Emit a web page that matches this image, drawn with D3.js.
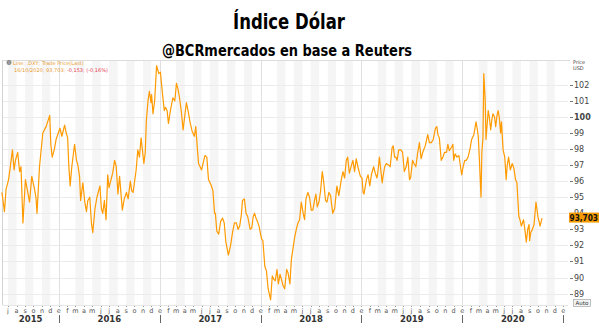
<!DOCTYPE html>
<meta charset="utf-8">
<script src="https://d3js.org/d3.v7.min.js"></script>
<style>
  body { margin: 0; background: #fff; }
  svg { display: block; }
  text { font-family: "DejaVu Sans", sans-serif; }
</style>
<div id="chart"></div>
<script>
// DXY closes (date, value)
var dates = [
  "2015-06-09","2015-06-18","2015-06-24","2015-07-03","2015-07-17","2015-07-23","2015-08-05","2015-08-17",
  "2015-08-24","2015-09-02","2015-09-17","2015-09-25","2015-10-14","2015-10-23","2015-11-04","2015-11-16",
  "2015-11-29","2015-12-08","2015-12-16","2016-01-05","2016-01-22","2016-02-02","2016-02-11","2016-02-27",
  "2016-03-16","2016-03-20","2016-03-28","2016-04-10","2016-04-22","2016-05-03","2016-05-11","2016-05-29",
  "2016-06-08","2016-06-20","2016-06-26","2016-07-08","2016-07-21","2016-08-02","2016-08-08","2016-08-18",
  "2016-09-02","2016-09-16","2016-09-26","2016-10-07","2016-10-13","2016-10-25","2016-11-04","2016-11-13",
  "2016-11-19","2016-12-02","2016-12-07","2016-12-20","2017-01-03","2017-01-10","2017-01-21","2017-02-01",
  "2017-02-17","2017-03-02","2017-03-13","2017-03-26","2017-04-07","2017-04-21","2017-05-06","2017-05-21",
  "2017-06-01","2017-06-13","2017-06-26","2017-07-07","2017-07-18","2017-07-26","2017-08-09","2017-08-28",
  "2017-09-06","2017-09-21","2017-10-05","2017-10-17","2017-10-27","2017-11-09","2017-11-24","2017-12-10",
  "2017-12-26","2018-01-04","2018-01-16","2018-01-28","2018-02-06","2018-02-17","2018-03-01","2018-03-17",
  "2018-03-29","2018-04-10","2018-04-22","2018-05-04","2018-05-16","2018-05-28","2018-06-09","2018-06-21",
  "2018-07-03","2018-07-15","2018-07-31","2018-08-12","2018-08-24","2018-09-05","2018-09-19","2018-10-04",
  "2018-10-20","2018-11-07","2018-11-18","2018-12-01","2018-12-19","2019-01-07","2019-01-19","2019-01-31",
  "2019-02-14","2019-03-01","2019-03-07","2019-03-17","2019-04-01","2019-04-22","2019-05-06","2019-05-16",
  "2019-05-24","2019-06-05","2019-06-24","2019-07-05","2019-07-17","2019-07-30","2019-08-11","2019-08-29",
  "2019-09-11","2019-09-26","2019-10-05","2019-10-17","2019-10-29","2019-11-10","2019-11-23","2019-12-01",
  "2019-12-13","2019-12-30","2020-01-10","2020-01-22","2020-02-04","2020-02-20","2020-02-28","2020-03-04",
  "2020-03-09","2020-03-12","2020-03-19","2020-03-24","2020-03-27","2020-04-04","2020-04-13","2020-04-21",
  "2020-05-01","2020-05-10","2020-05-19","2020-05-28","2020-06-08","2020-06-17","2020-06-30","2020-07-12",
  "2020-07-24","2020-08-02","2020-08-20","2020-08-30","2020-09-11","2020-09-24","2020-10-01","2020-10-09",
  "2020-10-16",
  // in-between readings
  "2015-07-10","2015-07-28","2015-08-12","2015-10-05","2015-10-10","2015-12-03","2015-12-22","2016-01-12",
  "2016-01-28","2016-02-06","2016-02-17","2016-03-05","2016-03-10","2016-04-04","2016-04-15","2016-04-28",
  "2016-05-18","2016-05-24","2016-06-03","2016-06-14","2016-07-01","2016-07-14","2016-07-27","2016-08-25",
  "2016-09-08","2016-09-21","2016-10-19","2016-11-09","2016-11-24","2016-11-30","2016-12-13","2016-12-28",
  "2017-01-17","2017-01-27","2017-02-08","2017-02-24","2017-03-08","2017-03-20","2017-04-13","2017-04-28",
  "2017-05-11","2017-05-16","2017-06-20","2017-07-12","2017-07-21","2017-08-02","2017-08-16","2017-08-22",
  "2017-09-14","2017-09-28","2017-10-11","2017-10-23","2017-11-03","2017-11-15","2017-11-30","2017-12-05",
  "2017-12-15","2017-12-20","2018-01-09","2018-01-22","2018-02-12","2018-02-23","2018-03-06","2018-03-12",
  "2018-03-23","2018-04-05","2018-04-17","2018-05-10","2018-05-22","2018-06-04","2018-06-14","2018-06-27",
  "2018-07-09","2018-07-20","2018-07-25","2018-08-06","2018-08-17","2018-08-29","2018-09-11","2018-09-26",
  "2018-10-11","2018-10-26","2018-11-01","2018-11-12","2018-11-26","2018-12-07","2018-12-13","2018-12-28",
  "2019-01-03","2019-01-10","2019-01-25","2019-02-06","2019-02-20","2019-02-26","2019-03-21","2019-03-26",
  "2019-04-10","2019-04-15","2019-04-26","2019-05-01","2019-05-10","2019-05-30","2019-06-12","2019-06-18",
  "2019-06-28","2019-07-10","2019-07-23","2019-08-05","2019-08-20","2019-09-04","2019-09-18","2019-10-01",
  "2019-10-10","2019-10-23","2019-11-05","2019-11-15","2019-11-28","2019-12-06","2019-12-20","2020-01-03",
  "2020-01-16","2020-01-29","2020-02-12","2020-02-24","2020-03-16","2020-04-08","2020-04-17","2020-04-27",
  "2020-05-06","2020-05-14","2020-05-22","2020-06-03","2020-06-12","2020-06-23","2020-07-06","2020-07-17",
  "2020-07-28","2020-08-10","2020-08-14","2020-08-25","2020-09-01","2020-09-05","2020-09-17","2020-10-05",
  "2020-10-13"
];
var values = [
  95.3, 94.1, 95.5, 96.1, 97.95, 96.7, 97.8, 96.9,
  93.4, 96.1, 94.7, 96.3, 94.0, 96.9, 99.0, 99.4,
  100.1, 97.5, 98.0, 99.3, 99.5, 98.7, 95.7, 98.3,
  96.3, 94.8, 95.9, 94.1, 95.0, 92.8, 94.3, 95.7,
  94.0, 93.6, 96.4, 96.1, 97.3, 95.2, 96.3, 94.2,
  95.3, 96.0, 95.3, 96.7, 97.95, 98.7, 97.1, 99.8,
  101.0, 101.4, 100.2, 103.2, 102.8, 101.5, 100.6, 99.6,
  101.2, 102.1, 101.2, 99.2, 100.9, 99.6, 98.8, 97.1,
  96.7, 97.6, 96.1, 95.7, 94.0, 92.9, 93.5, 92.2,
  91.4, 92.8, 93.4, 93.2, 94.8, 94.0, 93.0, 94.0,
  93.2, 92.4, 90.7, 89.3, 88.6, 89.9, 90.5, 89.9,
  89.3, 90.3, 91.1, 92.5, 93.4, 94.7, 93.6, 95.3,
  94.2, 94.8, 94.7, 96.6, 94.8, 95.3, 94.0, 95.7,
  96.1, 97.3, 96.5, 97.3, 96.9, 95.3, 96.1, 95.7,
  96.9, 96.5, 97.5, 95.9, 97.1, 98.1, 97.5, 97.95,
  97.95, 96.6, 96.1, 97.3, 96.9, 98.4, 97.8, 98.9,
  98.4, 99.3, 98.9, 97.3, 97.8, 98.3, 98.1, 97.3,
  97.5, 96.4, 97.3, 97.5, 98.6, 99.7, 98.8, 97.0,
  95.0, 97.8, 102.7, 101.1, 98.6, 100.4, 99.2, 100.2,
  99.4, 100.4, 99.0, 97.95, 96.1, 97.5, 97.1, 96.1,
  93.8, 93.2, 92.2, 93.3, 93.0, 94.7, 93.8, 93.2,
  93.703,
  // in-between readings
  97.0, 97.3, 96.6, 95.5, 95.0, 98.3, 98.6, 98.8,
  99.0, 97.0, 96.9, 97.3, 97.0, 94.7, 94.8, 93.4,
  95.0, 95.4, 94.3, 94.8, 95.6, 96.5, 96.9, 94.9,
  94.9, 95.4, 97.5, 97.8, 101.6, 100.9, 101.0, 102.7,
  100.4, 100.4, 100.4, 101.0, 101.7, 100.3, 100.4, 99.1,
  99.4, 98.2, 97.5, 95.4, 94.0, 92.7, 93.7, 93.4,
  92.0, 93.4, 93.0, 93.9, 94.9, 93.8, 93.1, 93.8,
  93.7, 93.5, 92.3, 90.4, 90.1, 89.8, 89.6, 90.2,
  89.5, 90.5, 89.6, 93.0, 93.6, 94.0, 94.9, 95.0,
  94.2, 95.2, 94.4, 95.4, 96.0, 94.7, 95.1, 94.3,
  95.1, 96.6, 96.2, 97.5, 97.0, 96.6, 97.4, 96.3,
  96.2, 95.2, 96.4, 96.4, 96.5, 96.2, 96.4, 96.9,
  97.0, 96.9, 98.2, 97.5, 97.3, 97.8, 96.9, 97.5,
  96.2, 97.1, 97.7, 97.4, 98.2, 98.4, 98.6, 99.4,
  98.7, 97.5, 97.8, 97.9, 98.3, 97.7, 97.6, 96.8,
  97.3, 98.0, 98.9, 99.3, 98.7, 100.0, 99.8, 100.0,
  100.1, 100.0, 99.7, 97.5, 97.0, 96.7, 96.8, 95.9,
  93.6, 93.6, 93.1, 93.0, 92.3, 92.8, 93.3, 93.5,
  93.5
];
var yTicks = [89, 90, 91, 92, 93, 94, 95, 96, 97, 98, 99, 100, 101, 102];
var monthLetters = ["e", "f", "m", "a", "m", "j", "j", "a", "s", "o", "n", "d"];
var years = [2015, 2016, 2017, 2018, 2019, 2020];
var title = "Índice Dólar";
var subtitle = "@BCRmercados en base a Reuters";
var lastLabel = "93,703";

var W = 599, H = 329;
var pLeft = 2.5, pRight = 568, pTop = 60, pBottom = 305;

var parse = d3.timeParse("%Y-%m-%d");
var data = dates.map(function(d, i) { return {date: parse(d), value: values[i]}; });
data.sort(function(a, b) { return a.date - b.date; });

var svg = d3.select("#chart").append("svg")
    .attr("width", W).attr("height", H);

var x = d3.scaleTime()
    .domain([parse("2015-06-11"), parse("2021-01-18")])
    .range([pLeft, pRight]);
var y = d3.scaleLinear()
    .domain([100 - (pBottom - 117) / 16.05, 100 + (117 - pTop) / 16.05])
    .range([pBottom, pTop]);

// title
svg.append("text")
    .attr("x", 289).attr("y", 29)
    .attr("text-anchor", "middle")
    .attr("textLength", 112).attr("lengthAdjust", "spacingAndGlyphs")
    .style("font-family", "'Liberation Sans Narrow', 'DejaVu Sans Condensed', sans-serif")
    .style("font-weight", "bold").style("font-size", "21px")
    .text(title);
svg.append("text")
    .attr("x", 287).attr("y", 56)
    .attr("text-anchor", "middle")
    .attr("textLength", 250).attr("lengthAdjust", "spacingAndGlyphs")
    .style("font-family", "'Liberation Sans Narrow', 'DejaVu Sans Condensed', sans-serif")
    .style("font-weight", "bold").style("font-size", "16px")
    .text(subtitle);

// month bands
var months = d3.timeMonth.range(d3.timeMonth.floor(x.domain()[0]), x.domain()[1]);
svg.append("g").selectAll("rect")
    .data(months.filter(function(m) { return m.getMonth() % 2 === 0 && m.getMonth() !== 0; }))
    .join("rect")
    .attr("x", function(m) { return Math.max(pLeft, x(m)); })
    .attr("width", function(m) { return Math.min(pRight, x(d3.timeMonth.offset(m, 1))) - Math.max(pLeft, x(m)); })
    .attr("y", pTop).attr("height", pBottom - pTop)
    .attr("fill", "#f5f5f5");

// horizontal grid
svg.append("g").selectAll("line")
    .data(yTicks)
    .join("line")
    .attr("x1", pLeft).attr("x2", pRight)
    .attr("y1", function(d) { return Math.round(y(d)) + 0.5; })
    .attr("y2", function(d) { return Math.round(y(d)) + 0.5; })
    .attr("stroke", "#ececec");

// year dividers in plot
var yearStarts = years.slice(1).map(function(yr) { return new Date(yr, 0, 1); });
svg.append("g").selectAll("line")
    .data(yearStarts)
    .join("line")
    .attr("x1", function(d) { return Math.round(x(d)) + 0.5; })
    .attr("x2", function(d) { return Math.round(x(d)) + 0.5; })
    .attr("y1", pTop).attr("y2", pBottom)
    .attr("stroke", "#e0e0e0");

// frame
svg.append("line").attr("x1", pLeft).attr("x2", pLeft).attr("y1", pTop).attr("y2", pBottom)
    .attr("stroke", "#d4d4d4");
svg.append("line").attr("x1", pLeft).attr("x2", pRight + 2).attr("y1", pTop + 0.5).attr("y2", pTop + 0.5)
    .attr("stroke", "#dcdcdc");
svg.append("line").attr("x1", pLeft).attr("x2", pRight).attr("y1", pBottom + 0.5).attr("y2", pBottom + 0.5)
    .attr("stroke", "#e6e6e6");

// line
var line = d3.line()
    .x(function(d) { return x(d.date); })
    .y(function(d) { return y(d.value); });
svg.append("path")
    .datum(data)
    .attr("d", line)
    .attr("fill", "none")
    .attr("stroke", "#ff9a00")
    .attr("stroke-width", 1.2)
    .attr("stroke-linejoin", "round");

// right axis
var yAxis = svg.append("g").attr("transform", "translate(" + (pRight + 1) + ",0)");
yAxis.selectAll("line")
    .data(yTicks)
    .join("line")
    .attr("x1", 1).attr("x2", 4)
    .attr("y1", function(d) { return Math.round(y(d)) + 0.5; })
    .attr("y2", function(d) { return Math.round(y(d)) + 0.5; })
    .attr("stroke", "#777");
yAxis.selectAll("text")
    .data(yTicks)
    .join("text")
    .attr("x", 5)
    .attr("y", function(d) { return y(d) + 3; })
    .style("font-size", "8px")
    .style("font-weight", function(d) { return d === 100 ? "bold" : "normal"; })
    .attr("fill", "#444")
    .text(function(d) { return d; });
svg.append("text").attr("x", 573).attr("y", 64)
    .style("font-size", "5px").attr("fill", "#444").text("Price");
svg.append("text").attr("x", 573).attr("y", 70)
    .style("font-size", "5px").attr("fill", "#444").text("USD");

// last price tag
var last = data[data.length - 1];
svg.append("rect")
    .attr("x", pRight + 1).attr("y", y(last.value) - 5.5)
    .attr("width", W - pRight - 1).attr("height", 10)
    .attr("fill", "#f59b00");
svg.append("text")
    .attr("x", pRight + 1.5).attr("y", y(last.value) + 3)
    .attr("textLength", 28.5).attr("lengthAdjust", "spacingAndGlyphs")
    .style("font-size", "8px").style("font-weight", "bold")
    .attr("fill", "#111").text(lastLabel);

// auto button
svg.append("rect").attr("x", 573.5).attr("y", 299.5).attr("width", 17).attr("height", 7)
    .attr("fill", "#f2f2f2").attr("stroke", "#999").attr("stroke-width", 0.6);
svg.append("text").attr("x", 582).attr("y", 305).attr("text-anchor", "middle")
    .style("font-size", "5.5px").attr("fill", "#333").text("Auto");

// bottom axis: month letters
var monthTicks = months.filter(function(m) { return x(m) >= pLeft - 1; });
var xAxis = svg.append("g");
xAxis.selectAll("rect")
    .data(monthTicks)
    .join("rect")
    .attr("x", function(m) { return Math.round(x(m)); })
    .attr("y", pBottom + 1).attr("width", 1).attr("height", 1)
    .attr("fill", "#999");
xAxis.selectAll("text.m")
    .data(monthTicks)
    .join("text")
    .attr("class", "m")
    .attr("x", function(m) { return x(m); })
    .attr("y", 312.5)
    .attr("text-anchor", "middle")
    .style("font-size", "6.5px").attr("fill", "#555")
    .text(function(m) { return monthLetters[m.getMonth()]; });

// year labels & separators
xAxis.selectAll("text.y")
    .data(years)
    .join("text")
    .attr("class", "y")
    .attr("x", function(yr) {
      var a = Math.max(pLeft, x(new Date(yr, 0, 1)));
      var b = Math.min(x(new Date(yr + 1, 0, 1)), pRight);
      return (a + b) / 2;
    })
    .attr("y", 322)
    .attr("text-anchor", "middle")
    .style("font-size", "8.5px").style("font-weight", "bold").attr("fill", "#333")
    .text(function(d) { return d; });
xAxis.selectAll("line")
    .data(yearStarts.concat([new Date(2021, 0, 1)]))
    .join("line")
    .attr("x1", function(d) { return Math.round(x(d)) + 0.5; })
    .attr("x2", function(d) { return Math.round(x(d)) + 0.5; })
    .attr("y1", 315).attr("y2", 323)
    .attr("stroke", "#666");

// legend
var lg = svg.append("g").style("font-size", "5px");
lg.append("circle").attr("cx", 9).attr("cy", 62.5).attr("r", 2.2)
    .attr("fill", "#999").attr("stroke", "#666").attr("stroke-width", 0.5);
lg.append("text").attr("x", 13).attr("y", 64.5).attr("fill", "#e89a30")
    .text("Line; .DXY; Trade Price(Last)");
lg.append("text").attr("x", 14).attr("y", 71.5).attr("fill", "#e89a30")
    .text("16/10/2020; 93,703;")
  .append("tspan").attr("fill", "#e8384f").text(" -0,153; (-0,16%)");
</script>
